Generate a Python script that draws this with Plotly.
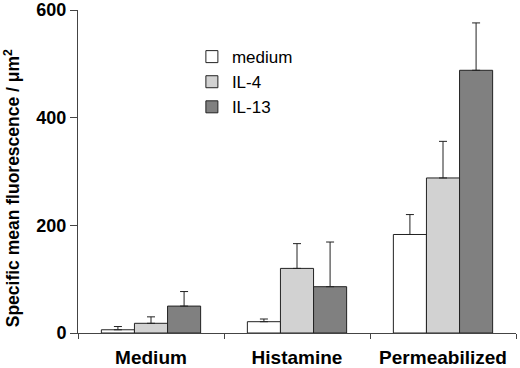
import plotly.graph_objects as go

categories = ["Medium", "Histamine", "Permeabilized"]
series_names = ["medium", "IL-4", "IL-13"]
values = {
    "medium": [6, 21, 183],
    "IL-4": [18, 120, 288],
    "IL-13": [50, 86, 488],
}
errors = {
    "medium": [6, 5, 37],
    "IL-4": [12, 46, 68],
    "IL-13": [27, 83, 88],
}
y_ticks = [0, 200, 400, 600]
colors = {"medium": "#ffffff", "IL-4": "#d2d2d2", "IL-13": "#808080"}
y_title = "<b>Specific mean fluorescence / μm<sup>2</sup></b>"

FONT = "Liberation Sans, Arial, sans-serif"

fig = go.Figure()
for name in series_names:
    fig.add_trace(go.Bar(
        name=name,
        x=categories,
        y=values[name],
        marker=dict(color=colors[name], line=dict(color="#222222", width=1)),
        error_y=dict(type="data", symmetric=False, array=errors[name],
                     arrayminus=[0] * len(categories),
                     color="#222222", thickness=1, width=4),
    ))

fig.update_layout(
    width=520, height=368,
    margin=dict(l=78, r=4, t=10, b=35),
    paper_bgcolor="white", plot_bgcolor="white",
    barmode="group", bargap=0.32, bargroupgap=0,
    font=dict(family=FONT, color="#000000"),
    showlegend=True,
    legend=dict(x=0.26, y=0.91, xanchor="left", yanchor="top",
                font=dict(size=17, family=FONT),
                bgcolor="rgba(0,0,0,0)", tracegroupgap=0),
    xaxis=dict(showline=True, linecolor="#444444", linewidth=1,
               ticks="outside", tickson="boundaries", ticklen=5,
               tickcolor="#444444", automargin=False, ticklabelstandoff=7,
               tickfont=dict(size=19, family=FONT, color="#000000"),
               showgrid=False, zeroline=False),
    yaxis=dict(range=[0, 600], tickmode="array", tickvals=y_ticks,
               ticktext=[f"<b>{v}</b>" for v in y_ticks],
               showline=True, linecolor="#444444", ticklabeloverflow="allow",
               linewidth=1, ticks="outside", ticklen=7, tickcolor="#444444",
               automargin=False,
               tickfont=dict(size=18, family=FONT, color="#000000"),
               showgrid=False, zeroline=False),
    annotations=[dict(text=y_title, textangle=-90, showarrow=False,
                      xref="paper", yref="paper", x=-0.1507, y=0.448,
                      xanchor="center", yanchor="middle",
                      font=dict(size=17.5, family=FONT, color="#000000"))],
)
fig.update_xaxes(tickprefix="<b>", ticksuffix="</b>")

fig.write_html("out.html", config={"displayModeBar": False},
               post_script="document.body.style.margin='0px';")
